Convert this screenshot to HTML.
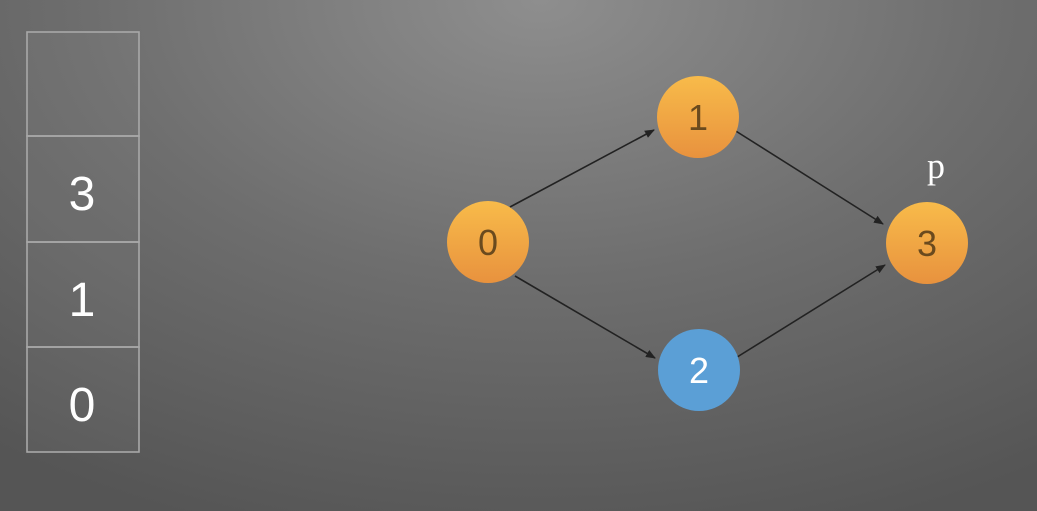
<!DOCTYPE html>
<html><head><style>
html,body{margin:0;padding:0;}
body{width:1037px;height:511px;overflow:hidden;background:radial-gradient(ellipse 900px 560px at 540px 0px,#8e8e8e 0%,#6e6e6e 50%,#555 100%);}
</style></head><body>
<svg width="1037" height="511" xmlns="http://www.w3.org/2000/svg" style="position:absolute;left:0;top:0">
<defs>
<linearGradient id="og" x1="0" y1="0" x2="0" y2="1"><stop offset="0" stop-color="#f8bb4a"/><stop offset="1" stop-color="#e8923e"/></linearGradient>
<marker id="ah" markerWidth="10" markerHeight="8" refX="9" refY="4" orient="auto" markerUnits="userSpaceOnUse"><path d="M0,0 L10,4 L0,8 z" fill="#222"/></marker>
</defs>
<g fill="rgba(255,255,255,0.04)" stroke="#a8a8a8" stroke-width="1.6">
<rect x="27" y="32" width="112" height="104"/>
<rect x="27" y="136" width="112" height="106"/>
<rect x="27" y="242" width="112" height="105"/>
<rect x="27" y="347" width="112" height="105"/>
</g>
<g font-family="Liberation Sans, sans-serif" font-size="48" fill="#fff" text-anchor="middle">
<text x="82" y="210">3</text><text x="82" y="316">1</text><text x="82" y="421">0</text>
</g>
<g stroke="#222" stroke-width="1.6" marker-end="url(#ah)">
<line x1="510" y1="207" x2="654" y2="130"/>
<line x1="731" y1="128" x2="883" y2="224"/>
<line x1="515" y1="276" x2="655" y2="358"/>
<line x1="734" y1="359" x2="885" y2="265"/>
</g>
<circle cx="488" cy="242" r="41" fill="url(#og)"/>
<circle cx="698" cy="117" r="41" fill="url(#og)"/>
<circle cx="927" cy="243" r="41" fill="url(#og)"/>
<circle cx="699" cy="370" r="41" fill="#5b9fd6"/>
<g font-family="Liberation Sans, sans-serif" font-size="36" text-anchor="middle">
<text x="488" y="255" fill="#6a4a1e">0</text>
<text x="698" y="130" fill="#6a4a1e">1</text>
<text x="927" y="256" fill="#6a4a1e">3</text>
<text x="699" y="383" fill="#fff">2</text>
</g>
<text x="936" y="178" font-family="Liberation Serif, serif" font-size="36" fill="#fff" text-anchor="middle">p</text>
</svg>
</body></html>
